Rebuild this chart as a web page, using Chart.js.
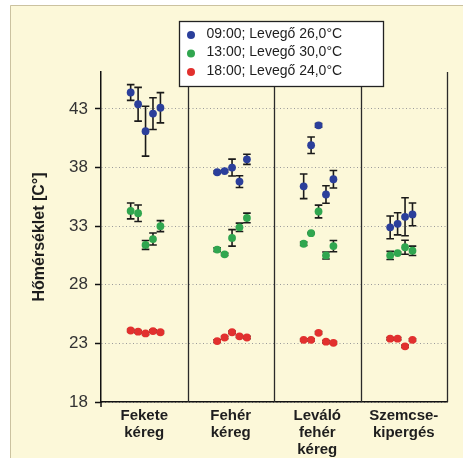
<!DOCTYPE html>
<html>
<head>
<meta charset="utf-8">
<script src="https://cdn.jsdelivr.net/npm/chart.js@4.4.1/dist/chart.umd.min.js"></script>
<style>
    html, body { margin: 0; padding: 0; background: #ffffff; }
    #wrap { width: 463px; height: 458px; }
</style>
</head>
<body>
<div id="wrap"><canvas id="chart" width="463" height="458"></canvas></div>
<script>
// categories (x axis), one label line per array item
const categories = [
    ['Fekete', 'kéreg'],
    ['Fehér', 'kéreg'],
    ['Leváló', 'fehér', 'kéreg'],
    ['Szemcse-', 'kipergés']
];
const yTicks = [18, 23, 28, 33, 38, 43];

const seriesLabels = ['09:00; Levegő 26,0°C', '13:00; Levegő 30,0°C', '18:00; Levegő 24,0°C'];

// measured temperatures, one inner list per category
const morning = [[44.4, 43.4, 41.1, 42.6, 43.1], [37.6, 37.7, 38.0, 36.8, 38.7], [36.4, 39.9, 41.6, 35.7, 37.0], [32.9, 33.2, 33.8, 34.0]];
const morningErr = [[0.67, 1.44, 2.13, 1.35, 1.29], [0.1, 0.1, 0.72, 0.5, 0.43], [1.05, 0.7, 0.15, 0.75, 0.75], [0.97, 0.94, 1.62, 0.97]];

const noon = [[34.3, 34.1, 31.4, 31.9, 33.0], [31.0, 30.6, 32.0, 32.9, 33.7], [31.5, 32.4, 34.25, 30.5, 31.3], [30.5, 30.7, 31.2, 30.9]];
const noonErr = [[0.68, 0.7, 0.38, 0.51, 0.47], [0.15, 0.1, 0.7, 0.36, 0.41], [0.15, 0.05, 0.54, 0.3, 0.48], [0.35, 0.1, 0.6, 0.4]];

const evening = [[24.1, 24.0, 23.85, 24.05, 23.95], [23.2, 23.5, 23.95, 23.6, 23.5], [23.3, 23.3, 23.9, 23.15, 23.05], [23.4, 23.4, 22.75, 23.3]];
const eveningErr = [[0.1, 0.1, 0.1, 0.1, 0.1], [0.1, 0.1, 0.1, 0.1, 0.1], [0.1, 0.1, 0.1, 0.1, 0.1], [0.1, 0.1, 0.1, 0.1]];

const colors = ['#2b3f9b', '#30a64f', '#e2302e'];

// spread the samples of one category side by side
const slot = 0.086;
const shift = 0.015;

function buildPoints(values, errs) {
    const pts = [];
    values.forEach((group, i) => {
        group.forEach((v, j) => {
            pts.push({x: i + 0.5 + (j - 2) * slot + shift, y: v, err: errs[i][j]});
        });
    });
    return pts;
}

const datasets = [
    buildPoints(morning, morningErr),
    buildPoints(noon, noonErr),
    buildPoints(evening, eveningErr)
].map((pts, k) => ({
    label: seriesLabels[k],
    data: pts,
    backgroundColor: colors[k],
    borderColor: colors[k],
    borderWidth: 0,
    pointRadius: 3.9,
    pointHoverRadius: 3.9
}));

// cream panel behind everything
const panelPlugin = {
    id: 'panel',
    beforeDraw(chart) {
        const ctx = chart.ctx;
        ctx.save();
        ctx.fillStyle = '#ffffff';
        ctx.fillRect(0, 0, chart.width, chart.height);
        ctx.fillStyle = '#fcf8d9';
        ctx.fillRect(10, 5, chart.width - 10, chart.height - 5);
        ctx.strokeStyle = '#cbc2a0';
        ctx.lineWidth = 1;
        ctx.beginPath();
        ctx.moveTo(10.5, chart.height);
        ctx.lineTo(10.5, 5.5);
        ctx.lineTo(chart.width, 5.5);
        ctx.stroke();
        ctx.restore();
    }
};

// category separators, right frame line and error bars
const errorBarPlugin = {
    id: 'errorBars',
    beforeDatasetsDraw(chart) {
        const ctx = chart.ctx;
        const xs = chart.scales.x;
        const ys = chart.scales.y;
        const area = chart.chartArea;
        ctx.save();
        ctx.strokeStyle = '#2a2a2a';
        ctx.lineWidth = 1.3;
        for (let i = 1; i <= categories.length; i++) {
            const px = Math.round(xs.getPixelForValue(i)) + 0.5;
            ctx.beginPath();
            ctx.moveTo(px, area.top);
            ctx.lineTo(px, area.bottom);
            ctx.stroke();
        }
        // y axis runs a little past the x axis
        ctx.strokeStyle = '#111111';
        ctx.lineWidth = 1.5;
        ctx.beginPath();
        ctx.moveTo(area.left, area.bottom);
        ctx.lineTo(area.left, area.bottom + 5);
        ctx.stroke();

        ctx.strokeStyle = '#1a1a1a';
        ctx.lineWidth = 1.6;
        chart.data.datasets.forEach(ds => {
            ds.data.forEach(p => {
                const px = xs.getPixelForValue(p.x);
                const top = ys.getPixelForValue(p.y + p.err);
                const bot = ys.getPixelForValue(p.y - p.err);
                ctx.beginPath();
                ctx.moveTo(px, top);
                ctx.lineTo(px, bot);
                ctx.moveTo(px - 3.8, top);
                ctx.lineTo(px + 3.8, top);
                ctx.moveTo(px - 3.8, bot);
                ctx.lineTo(px + 3.8, bot);
                ctx.stroke();
            });
        });
        ctx.restore();
    }
};

// boxed legend sitting over the top of the plot
const legendBoxPlugin = {
    id: 'legendBox',
    afterDraw(chart) {
        const ctx = chart.ctx;
        const left = 179.5, top = 21.5, w = 204, h = 65;
        ctx.save();
        ctx.fillStyle = '#ffffff';
        ctx.fillRect(left, top, w, h);
        ctx.strokeStyle = '#222222';
        ctx.lineWidth = 1.3;
        ctx.strokeRect(left, top, w, h);
        ctx.font = '14px "Liberation Sans", Arial, sans-serif';
        ctx.textBaseline = 'middle';
        ctx.textAlign = 'left';
        chart.data.datasets.forEach((ds, k) => {
            const cy = top + 12.5 + k * 18.5;
            ctx.fillStyle = ds.backgroundColor;
            ctx.beginPath();
            ctx.arc(left + 11.5, cy + 1, 4, 0, Math.PI * 2);
            ctx.fill();
            ctx.fillStyle = '#1e1e1e';
            ctx.fillText(ds.label, left + 27, cy);
        });
        ctx.restore();
    }
};

new Chart(document.getElementById('chart'), {
    type: 'scatter',
    data: {datasets: datasets},
    options: {
        responsive: false,
        animation: false,
        devicePixelRatio: 1,
        layout: {padding: {top: 72, right: 16, left: 0, bottom: 0}},
        plugins: {
            legend: {display: false},
            tooltip: {enabled: false}
        },
        scales: {
            x: {
                type: 'linear',
                min: 0,
                max: categories.length,
                grid: {display: false, drawTicks: false},
                border: {display: true, color: '#111111', width: 1.5},
                afterBuildTicks: axis => {
                    axis.ticks = categories.map((c, i) => ({value: i + 0.5}));
                },
                afterFit: axis => { axis.height = 56; },
                ticks: {
                    autoSkip: false,
                    maxRotation: 0,
                    padding: 5,
                    color: '#1e1e1e',
                    font: {family: '"Liberation Sans", Arial, sans-serif', size: 15, weight: 'bold', lineHeight: 1.13},
                    callback: (value, index) => categories[index]
                }
            },
            y: {
                min: 18,
                max: 46.15,
                afterBuildTicks: axis => {
                    axis.ticks = yTicks.map(v => ({value: v}));
                },
                afterFit: axis => { axis.width = 101; },
                grid: {
                    color: '#9a9a9a',
                    lineWidth: 1,
                    drawTicks: true,
                    tickLength: 6,
                    tickColor: '#111111',
                    tickWidth: 1.5
                },
                border: {display: true, color: '#111111', width: 1.5, dash: [1, 2.5]},
                ticks: {
                    padding: 7,
                    color: '#333333',
                    font: {family: '"Liberation Sans", Arial, sans-serif', size: 17}
                },
                title: {
                    display: true,
                    text: 'Hőmérséklet [C°]',
                    color: '#1e1e1e',
                    padding: {top: 30, bottom: 0},
                    font: {family: '"Liberation Sans", Arial, sans-serif', size: 16, weight: 'bold'}
                }
            }
        }
    },
    plugins: [panelPlugin, errorBarPlugin, legendBoxPlugin]
});
</script>
</body>
</html>
